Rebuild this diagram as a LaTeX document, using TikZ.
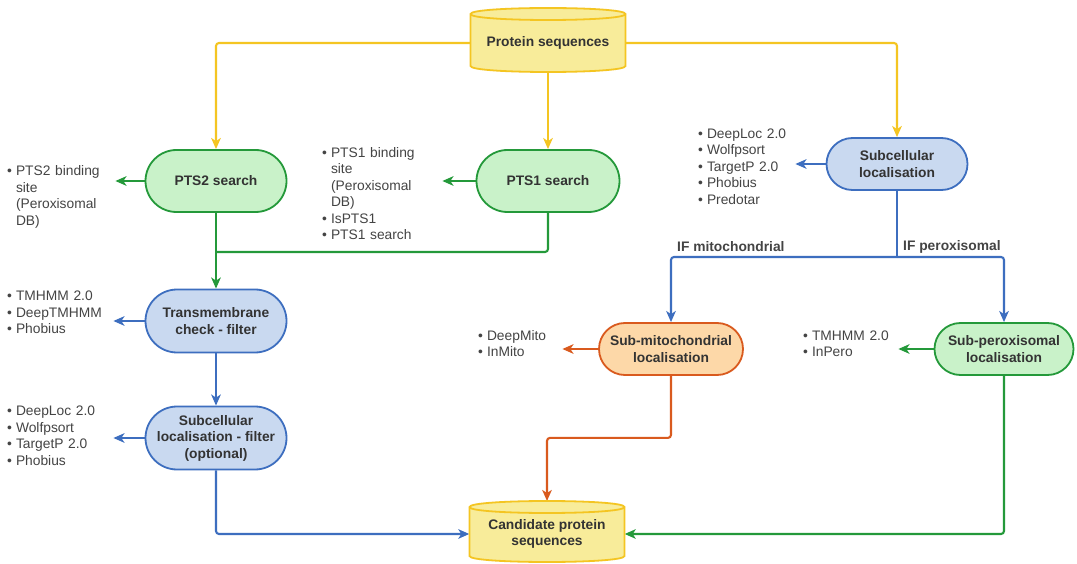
\documentclass[tikz,border=0pt]{standalone}
\usepackage{fontspec}
\setmainfont{Liberation Sans}
\usetikzlibrary{shapes.misc,arrows.meta,calc}
\pgfdeclarelayer{bg}\pgfdeclarelayer{cyl}\pgfdeclarelayer{paper}
\pgfsetlayers{paper,bg,cyl,main}
\definecolor{yfill}{HTML}{F8EC9A}
\definecolor{yline}{HTML}{F4C522}
\definecolor{gfill}{HTML}{C9F2C9}
\definecolor{gline}{HTML}{24993A}
\definecolor{bfill}{HTML}{C9D9F0}
\definecolor{bline}{HTML}{3D6EBF}
\definecolor{ofill}{HTML}{FDD8A8}
\definecolor{oline}{HTML}{D95A1E}
\definecolor{txt}{HTML}{333333}
\definecolor{ltxt}{HTML}{444444}
\newcommand\cylshape[5]{%
 \path[fill=yfill,draw=yline,line width=1.8pt] ($(#1.center)+(-#2,#3)$) -- ($(#1.center)+(-#2,#4)$) .. controls ($(#1.center)+(-#2,#4+1.333*#5)$) and ($(#1.center)+(#2,#4+1.333*#5)$) .. ($(#1.center)+(#2,#4)$) -- ($(#1.center)+(#2,#3)$) .. controls ($(#1.center)+(#2,#3-1.333*#5)$) and ($(#1.center)+(-#2,#3-1.333*#5)$) .. ($(#1.center)+(-#2,#3)$) -- cycle;
 \draw[yline,line width=1.8pt] ($(#1.center)+(-#2,#3)$) .. controls ($(#1.center)+(-#2,#3+1.333*#5)$) and ($(#1.center)+(#2,#3+1.333*#5)$) .. ($(#1.center)+(#2,#3)$);
}
\tikzset{
 every node/.style={font=\fontsize{13.8}{16.5}\selectfont},
 bx/.style={rounded rectangle, line width=1.8pt, align=center, text=txt,
   font=\fontsize{13.8}{16.5}\selectfont\bfseries, inner sep=2pt},
 gbox/.style={bx, draw=gline, fill=gfill},
 bbox/.style={bx, draw=bline, fill=bfill},
 obox/.style={bx, draw=oline, fill=ofill},
 yel/.style={align=center, text=txt, inner sep=0pt, minimum width=155pt,
   font=\fontsize{13.8}{16.5}\selectfont\bfseries},
 lst/.style={anchor=west, inner sep=0pt, text=ltxt, align=left},
 lab/.style={anchor=west, inner sep=0pt, text=ltxt, font=\fontsize{13.8}{16.5}\selectfont\bfseries},
 tip/.style={-{Stealth[length=11pt,width=9.5pt,inset=3pt]}},
 con/.style={line width=2.1pt, rounded corners=3pt},
 ycon/.style={con, draw=yline},
 gcon/.style={con, draw=gline},
 bcon/.style={con, draw=bline},
 ocon/.style={con, draw=oline},
}
\newcommand\bl{\textbullet}
\begin{document}
\begin{tikzpicture}[x=1pt,y=-1pt]
\begin{pgfonlayer}{paper}
\fill[white] (0,0) rectangle (1077,564);
\end{pgfonlayer}
\useasboundingbox (0,0) rectangle (1077,564);
% main nodes
\node[yel] (ps) at (548,43) {Protein sequences};
\node[gbox, minimum width=145pt, minimum height=62pt] (pts2) at (216,181) {PTS2 search};
\node[gbox, minimum width=147pt, minimum height=62pt] (pts1) at (548,181) {PTS1 search};
\node[bbox, minimum width=145pt, minimum height=52pt] (sub) at (897,164) {Subcellular\\localisation};
\node[bbox, minimum width=145pt, minimum height=63pt] (tm) at (216,321) {Transmembrane\\check - filter};
\node[bbox, minimum width=145pt, minimum height=63pt] (filt) at (216,438) {Subcellular\\localisation - filter\\(optional)};
\node[obox, minimum width=148pt, minimum height=52pt] (mito) at (671,349) {Sub-mitochondrial\\localisation};
\node[gbox, minimum width=143pt, minimum height=52pt] (perox) at (1004,349) {Sub-peroxisomal\\localisation};
\node[yel] (cand) at (547,534) {Candidate protein\\sequences};
% cylinders
\begin{pgfonlayer}{cyl}
\cylshape{ps}{77.5}{-29}{23}{6}
\cylshape{cand}{77.5}{-27}{22}{6}
\end{pgfonlayer}
% lists
\node[lst, text width=108pt] (l2) at (7,197) {\begin{tabular}{@{}l@{\hspace{4pt}}l@{}}\bl & PTS2 binding\\ & site\\ & (Peroxisomal\\ & DB)\end{tabular}};
\node[lst, text width=120pt] (l1) at (322,195) {\begin{tabular}{@{}l@{\hspace{4pt}}l@{}}\bl & PTS1 binding\\ & site\\ & (Peroxisomal\\ & DB)\\ \bl & IsPTS1\\ \bl & PTS1 search\end{tabular}};
\node[lst, text width=97pt] (ls) at (698,168) {\begin{tabular}{@{}l@{\hspace{4pt}}l@{}}\bl & DeepLoc 2.0\\ \bl & Wolfpsort\\ \bl & TargetP 2.0\\ \bl & Phobius\\ \bl & Predotar\end{tabular}};
\node[lst, text width=106pt] (lt) at (7,314) {\begin{tabular}{@{}l@{\hspace{4pt}}l@{}}\bl & TMHMM 2.0\\ \bl & DeepTMHMM\\ \bl & Phobius\end{tabular}};
\node[lst, text width=106pt] (lf) at (7,437) {\begin{tabular}{@{}l@{\hspace{4pt}}l@{}}\bl & DeepLoc 2.0\\ \bl & Wolfpsort\\ \bl & TargetP 2.0\\ \bl & Phobius\end{tabular}};
\node[lst, text width=84pt] (lm) at (478,345) {\begin{tabular}{@{}l@{\hspace{4pt}}l@{}}\bl & DeepMito\\ \bl & InMito\end{tabular}};
\node[lst, text width=95pt] (lp) at (803,345) {\begin{tabular}{@{}l@{\hspace{4pt}}l@{}}\bl & TMHMM 2.0\\ \bl & InPero\end{tabular}};
% labels
\node[lab] (ifm) at (677,247) {IF mitochondrial};
\node[lab] (ifp) at (903,247) {IF peroxisomal};
% coordinates
\coordinate (gj) at (216,252);
\coordinate (bj) at (897,257);
\coordinate (candtop) at ($(cand.center)+(0,-33)$);
% connectors
\begin{pgfonlayer}{bg}
\draw[ycon,tip] (ps.west) -| (pts2.north);
\draw[ycon,tip] (ps.east) -| (sub.north);
\draw[ycon,tip] (ps.south) -- (pts1.north);
\draw[gcon,tip] (pts2.west) -- (pts2.west -| l2.east);
\draw[gcon,tip] (pts1.west) -- (pts1.west -| l1.east);
\draw[bcon,tip] (sub.west) -- (sub.west -| ls.east);
\draw[bcon,tip] (tm.west) -- (tm.west -| lt.east);
\draw[bcon,tip] (filt.west) -- (filt.west -| lf.east);
\draw[ocon,tip] (mito.west) -- (mito.west -| lm.east);
\draw[gcon,tip] (perox.west) -- (perox.west -| lp.east);
\draw[gcon,tip] (pts2.south) -- (tm.north);
\draw[gcon] (pts1.south) |- (gj);
\draw[bcon,tip] (tm.south) -- (filt.north);
\draw[bcon,tip] (filt.south) |- (cand.west);
\draw[bcon] (sub.south) -- (bj);
\draw[bcon,tip] (bj) -| (mito.north);
\draw[bcon,tip] (bj) -| (perox.north);
\draw[ocon,tip] (mito.south) -- ++(0,62) -| (candtop);
\draw[gcon,tip] (perox.south) |- (cand.east);
\end{pgfonlayer}
\end{tikzpicture}
\end{document}
